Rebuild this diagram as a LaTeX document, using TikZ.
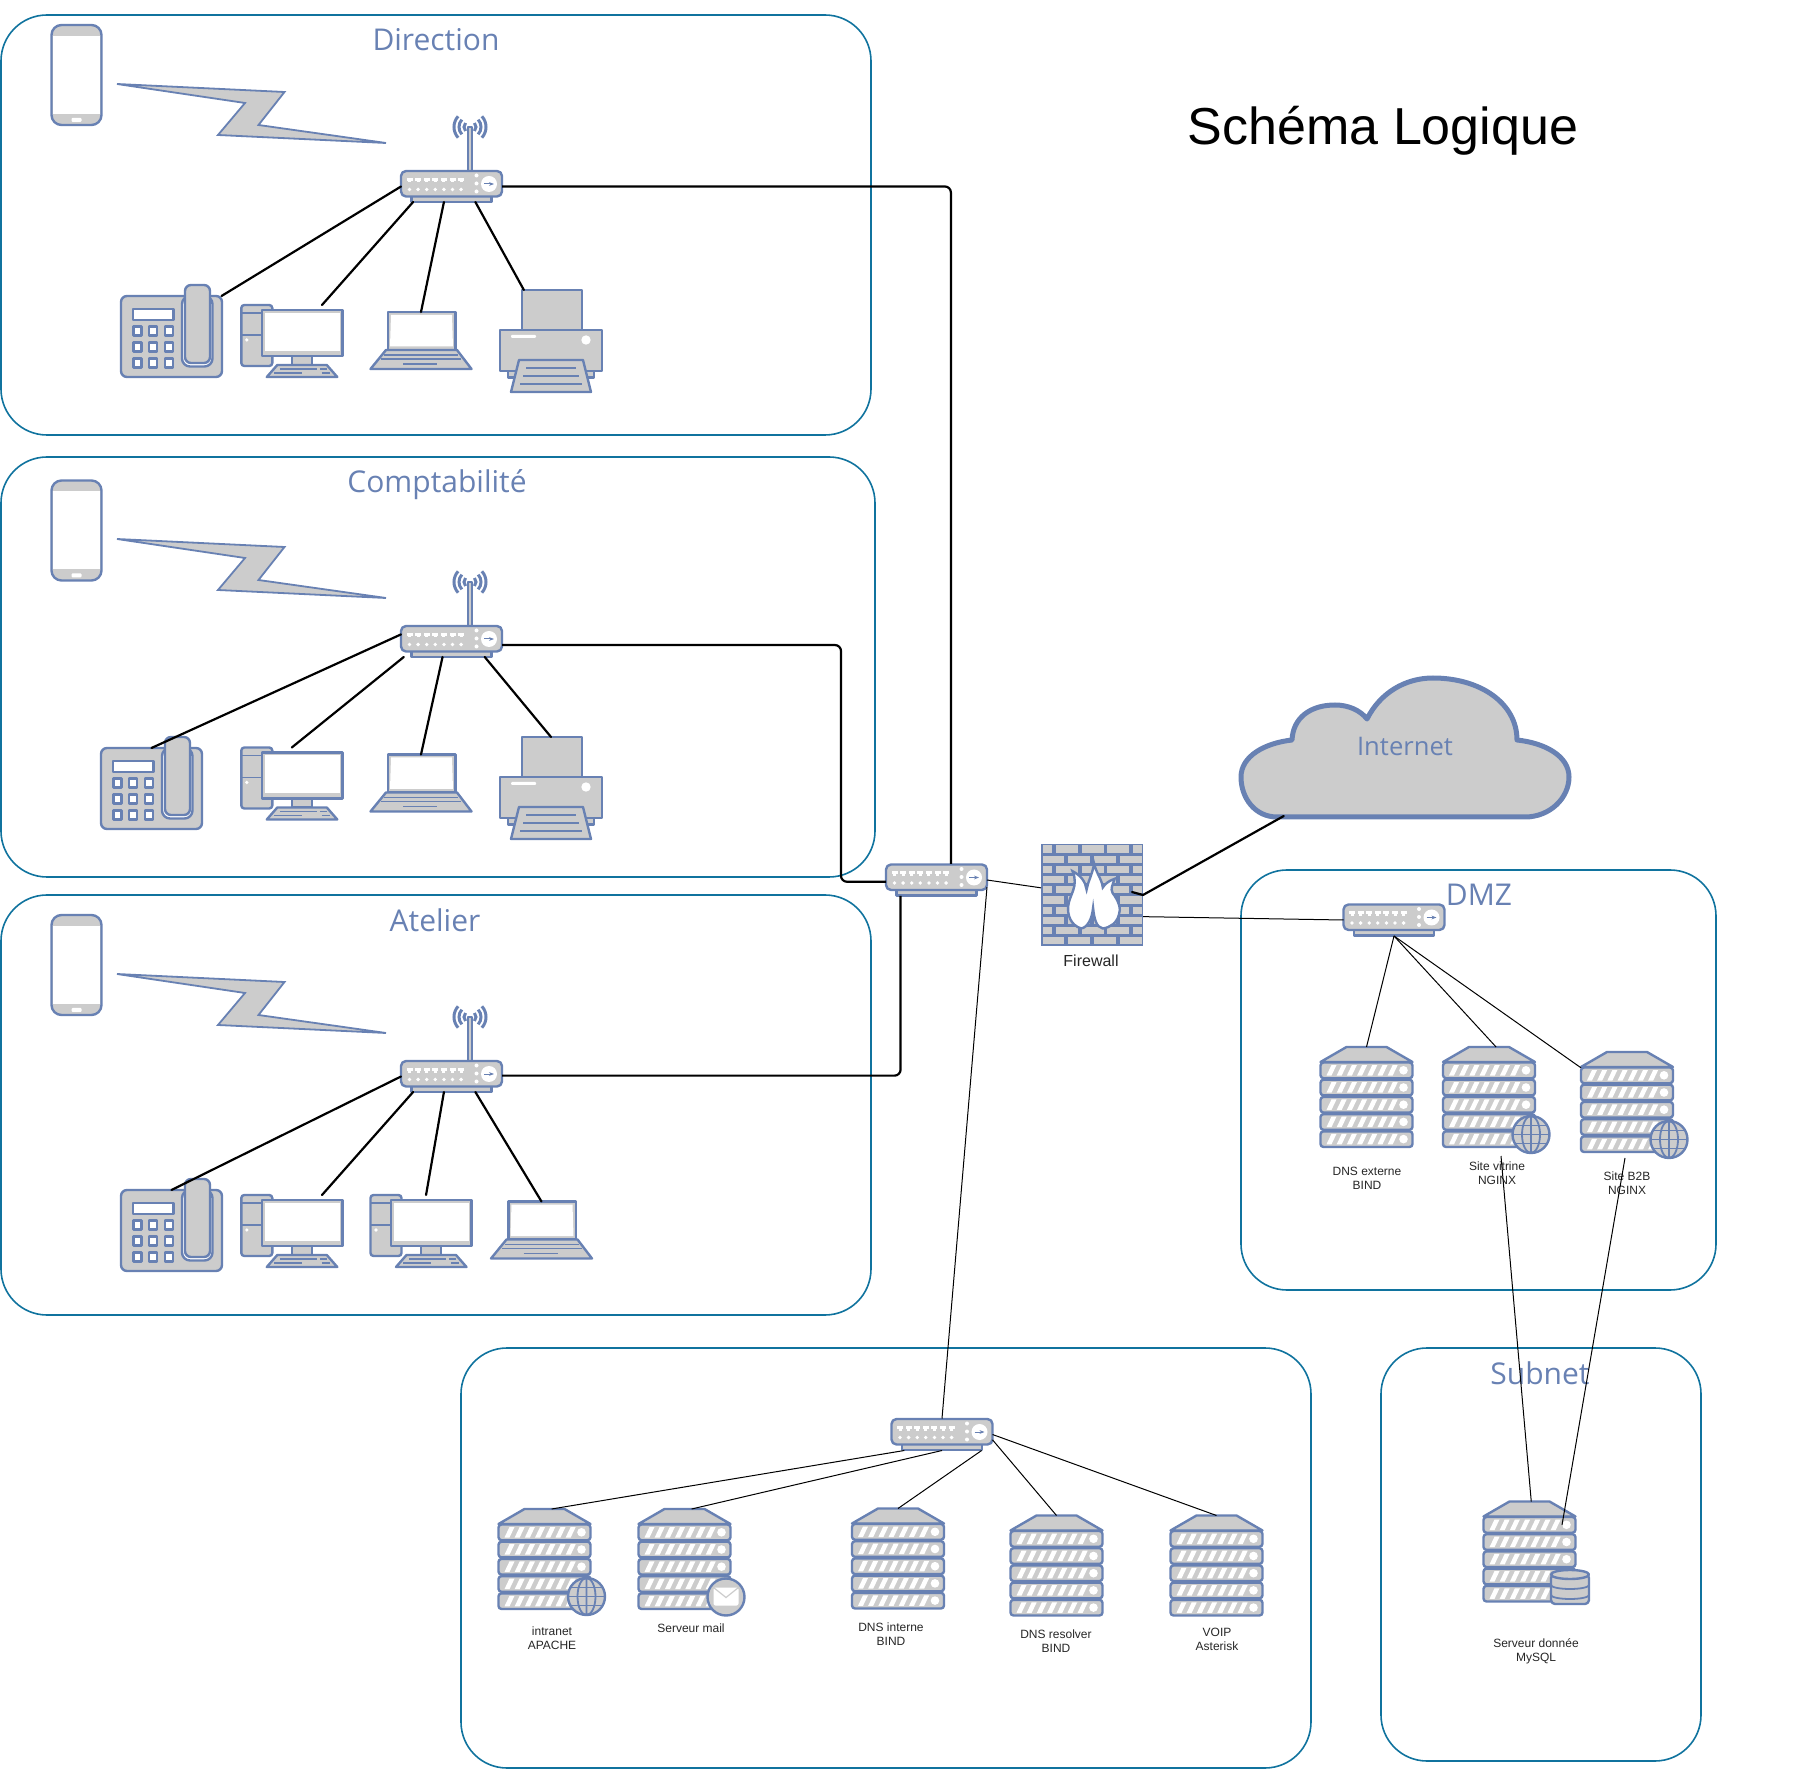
\documentclass[tikz,border=0pt]{standalone}
\usepackage{fontspec}
\setmainfont{Liberation Sans}
\newfontfamily\grpfont{Open Sans}
\usetikzlibrary{positioning, calc, arrows.meta}

\definecolor{iconline}{HTML}{6881B3}
\definecolor{iconfill}{HTML}{CCCCCC}
\definecolor{grpline}{HTML}{10739E}

\tikzset{
    dev/.style={draw=iconline, fill=iconfill, line width=1.2pt, line join=round},
    devline/.style={draw=iconline, line width=.9pt},
    devbox/.style={inner sep=0pt, outer sep=0pt},
    routerbox/.style={devbox, minimum width=50.5pt, minimum height=15.5pt},
    phonebox/.style={devbox, minimum width=25.5pt, minimum height=50pt},
    deskbox/.style={devbox, minimum width=50.5pt, minimum height=40.5pt},
    pcbox/.style={devbox, minimum width=50.5pt, minimum height=36pt},
    laptopbox/.style={devbox, minimum width=50.5pt, minimum height=28.5pt},
    printerbox/.style={devbox, minimum width=51pt, minimum height=51pt},
    serverbox/.style={devbox, minimum width=46pt, minimum height=50.5pt},
    grp/.style={draw=grpline, line width=.8pt, rounded corners=23pt},
    grptitle/.style={devbox, font=\grpfont\fontsize{15}{18}\selectfont, text=iconline},
    devlabel/.style={devbox, font=\fontsize{6}{7}\selectfont, align=center, text=black!85},
    wire/.style={line width=1.1pt, line cap=round},
    uplink/.style={line width=1.1pt, rounded corners=3pt},
    thinwire/.style={line width=.5pt},
    % icons, all drawn around their centre
    pics/router/.style={code={
        \draw[dev] (-40,9) rectangle (40,15.5);
        \draw[dev, rounded corners=2.5pt] (-50.5,-15.5) rectangle (50.5,10);
        \foreach \s in {-42,-33.4,...,18}{
            \fill[white] (\s-3,-8.5) rectangle (\s+3,-5.5);
            \fill[white] (\s-1.5,-5.5) rectangle (\s+1.5,-4);
            \fill[white] (\s,3) circle[radius=1.9];
        }
        \foreach \s in {-11,-3,5}
            \fill[white] (25,\s) circle[radius=2];
        \fill[white] (37.5,-2.5) circle[radius=8];
        \draw[iconline, line width=.5pt, -{Stealth[length=2.5pt]}] (32.5,-2.5) -- (42.5,-2.5);
    }},
    pics/wifirouter/.style={code={
        \draw[dev, line width=.7pt] (16.5,-15.5) rectangle (20.5,-59.5);
        \foreach \s in {6,11,16}{
            \draw[devline, line width=1.5pt] (18.5,-59.5) ++(-42:\s) arc[start angle=-42, end angle=42, radius=\s];
            \draw[devline, line width=1.5pt] (18.5,-59.5) ++(138:\s) arc[start angle=138, end angle=222, radius=\s];
        }
        \pic at (0,0) {router};
    }},
    pics/mobile/.style={code={
        \draw[dev, rounded corners=5pt] (-25,-50) rectangle (25,50);
        \fill[white] (-23.5,-39) rectangle (23.5,39);
        \fill[white, rounded corners=.5pt] (-5,43) rectangle (5,47);
    }},
    pics/deskphone/.style={code={
        \draw[dev, rounded corners=3pt] (-50.5,-40.5) rectangle (50.5,40.5);
        \draw[dev, fill=white, rounded corners=4pt] (10.5,-40.5) rectangle (41,30);
        \draw[dev, rounded corners=3pt] (13.5,-51.5) rectangle (38.5,26.5);
        \draw[dev, fill=white] (-38.5,-27.5) rectangle (2,-16.5);
        \foreach \s in {-34,-18.5,-2.5}
            \foreach \t in {-5.5,10.5,26.5}
                \draw[dev, fill=white] (\s-4,\t-4.5) rectangle (\s+4,\t+4.5);
    }},
    pics/computer/.style={code={
        \draw[dev, rounded corners=1.5pt] (-50.5,-36) rectangle (-19.5,25);
        \draw[devline] (-50.5,-28) -- (-19.5,-28) (-50.5,-6) -- (-19.5,-6);
        \fill[white] (-45,-1) circle[radius=1.8];
        \draw[dev] (0,15) rectangle (20,24);
        \draw[dev] (-14.5,24) -- (35,24) -- (45.5,36) -- (-25,36) -- cycle;
        \draw[devline] (-12,28) -- (25,28) (-18,32) -- (10,32) (28,28) -- (35,28) (30,32) -- (38,32);
        \draw[dev] (-30,-31) rectangle (50.5,15);
        \fill[white] (-27,-28) rectangle (48,10);
    }},
    pics/laptop/.style={code={
        \draw[dev] (-33,-28.5) rectangle (34.5,9.5);
        \fill[white] (-30,-25.5) -- (31,-25.5) -- (32,6) -- (-31,6) -- cycle;
        \draw[dev] (-35,9.5) -- (36,9.5) -- (50.5,28.5) -- (-50.5,28.5) -- cycle;
        \draw[devline] (-37,14.5) -- (37,14.5) (-40,18.5) -- (40,18.5) (-18,23.5) -- (16,23.5);
    }},
    pics/printer/.style={code={
        \draw[dev] (-29,-51) rectangle (31,-11);
        \draw[dev] (-43,25) rectangle (43,36.5);
        \draw[dev] (-51,-11) rectangle (51,30);
        \fill[white, rounded corners=.5pt] (-40,-6) rectangle (-15,-3);
        \fill[white] (35,-1) circle[radius=4.7];
        \draw[dev] (-32,19) -- (32,19) -- (40,51) -- (-40,51) -- cycle;
        \draw[devline] (-25,27) -- (25,27) (-28,35) -- (28,35) (-31,43) -- (31,43);
    }},
    pics/server/.style={code={
        \draw[dev] (-46,-35.5) -- (-20,-50.5) -- (20,-50.5) -- (46,-35.5) -- cycle;
        \foreach \r in {-35,-17.8,-.6,16.6,33.8}{
            \draw[dev, rounded corners=1.5pt] (-46,\r) rectangle (46,\r+15.7);
            \foreach \s in {-40,-29.8,-19.6,-9.4,.8,11,21.2}
                \fill[white, shift={(\s,\r)}] (0,13) -- (5,13) -- (10,2.5) -- (5,2.5) -- cycle;
            \fill[white] (37,\r+7.8) circle[radius=4.3];
        }
    }},
    pics/webserver/.style={code={
        \pic at (0,0) {server};
        \draw[dev] (42,37) circle[radius=18.5];
        \draw[devline] (42,37) ellipse[x radius=9, y radius=18.5] (42,18.5) -- (42,55.5);
        \draw[devline] (23.5,37) -- (60.5,37) (26,28) -- (58,28) (26,46) -- (58,46);
    }},
    pics/mailserver/.style={code={
        \pic at (0,0) {server};
        \draw[dev] (41.5,37.5) circle[radius=18.5];
        \fill[white, rounded corners=1pt] (29,28) rectangle (54,46);
        \draw[iconfill, line width=.6pt] (29,28) -- (41.5,38) -- (54,28);
    }},
    pics/dbserver/.style={code={
        \pic at (0,0) {server};
        \draw[dev, rounded corners=2pt] (21.5,22) rectangle (59.5,52);
        \foreach \s in {33,43}
            \draw[devline] (21.5,\s) arc[start angle=180, end angle=360, x radius=19, y radius=-4];
        \draw[dev] (40.5,22.5) ellipse[x radius=19, y radius=4.5];
    }},
    pics/firewall/.style={code={
        \fill[iconline] (-51,-51) rectangle (51,51);
        \foreach \r in {-51,-30.6,-10.2,10.2,30.6}{
            \foreach \a/\b in {1/11,14/37,40/63,65/88,91/101}
                \fill[iconfill, shift={(-51,\r)}] (\a+.5,1.5) rectangle (\b-.5,8.7);
            \foreach \a/\b in {1/23,26/49,52/75,78/101}
                \fill[iconfill, shift={(-51,\r+10.2)}] (\a+.5,1.5) rectangle (\b-.5,8.7);
        }
        \draw[devline, fill=white, line width=1.2pt, scale=1.08] (-10,31) .. controls (-20,28) and (-23,18) .. (-22,10)
            .. controls (-21,0) and (-12,-8) .. (-18,-22) .. controls (-10,-18) and (-6,-12) .. (-5,-5)
            .. controls (-4,-12) and (0,-18) .. (2,-29) .. controls (4,-20) and (9,-15) .. (10,-7)
            .. controls (12,-10) and (15,-13) .. (21,-15) .. controls (19,-9) and (17,-6) .. (19,-2)
            .. controls (25,6) and (27,13) .. (25,18) .. controls (23,26) and (17,30) .. (10,31)
            .. controls (4,30) and (2,22) .. (1,12) .. controls (0,22) and (-4,30) .. (-10,31) -- cycle;
    }},
    pics/cloud/.style={code={
        \draw[dev, line width=2.5pt] (-128,69) .. controls (-150,69) and (-164,50) .. (-164,29)
            .. controls (-164,8) and (-140,-5) .. (-113,-8) .. controls (-112,-30) and (-95,-43) .. (-70,-43)
            .. controls (-57,-43) and (-45,-38) .. (-38,-29) .. controls (-25,-55) and (0,-70) .. (28,-70)
            .. controls (75,-70) and (112,-45) .. (112,-8) .. controls (140,-5) and (164,8) .. (164,29)
            .. controls (164,50) and (145,69) .. (120,69) -- cycle;
    }},
    pics/bolt/.style={code={
        \draw[dev, line width=.9pt, line join=miter] (0,0) -- (167.5,8) -- (141.5,41) -- (269,59) -- (101,51) -- (128,19) -- cycle;
    }},
}

\begin{document}
\begin{tikzpicture}[x=.5pt, y=-.5pt]
\useasboundingbox (0,0) rectangle (1812,1770);

% the rooms
\foreach \xa/\ya/\xb/\yb in {1/15/871/435, 1/457/875/877, 1/895/871/1315, 461/1348/1311/1768, 1381/1348/1701/1761, 1241/870/1716/1290}{
    \draw[grp] (\xa,\ya) rectangle (\xb,\yb);
}
\node[grptitle] (dirtitle) at (436,40) {Direction};
\node[grptitle] (comptatitle) at (437,485) {Comptabilité};
\node[grptitle] (ateliertitle) at (435,920) {Atelier};
\node[grptitle] (dmztitle) at (1479,895) {DMZ};
\node[grptitle] (subnettitle) at (1540,1373) {Subnet};
\node[devbox, font=\fontsize{26}{30}\selectfont] (title) at (1383,130.5) {Schéma Logique};

% devices
\foreach \n/\x/\y in {dirmobile/76.5/75, comptamobile/76.5/530.5, ateliermobile/76.5/965}{
    \node[phonebox] (\n) at (\x,\y) {};
    \pic at (\x,\y) {mobile};
}
\foreach \x/\y in {117/84, 117/539, 117/974}{
    \pic at (\x,\y) {bolt};
}
\foreach \n/\x/\y in {dirsw/451.5/186.5, comptasw/451.5/641.5, ateliersw/451.5/1076.5}{
    \node[routerbox] (\n) at (\x,\y) {};
    \pic at (\x,\y) {wifirouter};
}
\foreach \n/\x/\y in {coresw/936.5/880, dmzsw/1394/920, lansw/942/1434.5}{
    \node[routerbox, minimum height=16pt] (\n) at (\x,\y) {};
    \pic at (\x,\y) {router};
}
\foreach \n/\x/\y in {dirdesk/171.5/336.5, comptadesk/151.5/788.5, atelierdesk/171.5/1230.5}{
    \node[deskbox] (\n) at (\x,\y) {};
    \pic at (\x,\y) {deskphone};
}
\foreach \n/\x/\y in {dirpc/291.8/341, comptapc/291.8/783.5, atelierpca/291.8/1231, atelierpcb/421/1231}{
    \node[pcbox] (\n) at (\x,\y) {};
    \pic at (\x,\y) {computer};
}
\foreach \n/\x/\y in {dirlaptop/421/340.5, comptalaptop/421/783, atelierlaptop/541.5/1230}{
    \node[laptopbox] (\n) at (\x,\y) {};
    \pic at (\x,\y) {laptop};
}
\foreach \n/\x/\y in {dirprinter/551/341, comptaprinter/551/788}{
    \node[printerbox] (\n) at (\x,\y) {};
    \pic at (\x,\y) {printer};
}
\foreach \n/\x/\y in {dnsext/1366.5/1097.5, dnsint/898/1559, dnsres/1056.5/1566, voip/1216.5/1566}{
    \node[serverbox] (\n) at (\x,\y) {};
    \pic at (\x,\y) {server};
}
\foreach \n/\x/\y in {vitrine/1489/1097.5, btob/1627/1102.5, intranet/544.5/1559.5}{
    \node[serverbox] (\n) at (\x,\y) {};
    \pic at (\x,\y) {webserver};
}
\node[serverbox] (mail) at (684.5,1559.5) {};
\pic at (684.5,1559.5) {mailserver};
\node[serverbox] (mysql) at (1529.5,1552) {};
\pic at (1529.5,1552) {dbserver};

\node[printerbox] (firewall) at (1092,895) {};
\pic at (1092,895) {firewall};
\pic at (1405,748) {cloud};
\node[devbox, minimum width=165pt, minimum height=70pt, font=\grpfont\fontsize{12.8}{15}\selectfont, text=iconline] (internet) at (1405,746) {Internet};

% labels
\node[devlabel, font=\fontsize{8}{9}\selectfont] (firewalllbl) at (1091,961) {Firewall};
\node[devlabel] (dnsextlbl) at (1367,1178) {DNS externe\\BIND};
\node[devlabel] (vitrinelbl) at (1497,1173) {Site vitrine\\NGINX};
\node[devlabel] (btoblbl) at (1627,1183) {Site B2B\\NGINX};
\node[devlabel] (intranetlbl) at (552,1638) {intranet\\APACHE};
\node[devlabel] (maillbl) at (691,1628) {Serveur mail};
\node[devlabel] (dnsintlbl) at (891,1634) {DNS interne\\BIND};
\node[devlabel] (dnsreslbl) at (1056,1641) {DNS resolver\\BIND};
\node[devlabel] (voiplbl) at (1217,1639) {VOIP\\Asterisk};
\node[devlabel] (mysqllbl) at (1536,1651) {Serveur donnée\\MySQL};

% links
\foreach \a/\b in {dirsw.west/dirdesk.39, dirsw.202/dirpc.50, dirsw.244/dirlaptop.north, dirsw.-33/dirprinter.118,
    comptasw.172/comptadesk.north, comptasw.198/comptapc.north, comptasw.240/comptalaptop.north, comptasw.-25/comptaprinter.north,
    ateliersw.west/atelierdesk.north, ateliersw.202/atelierpca.50, ateliersw.244/atelierpcb.82, ateliersw.-33/atelierlaptop.north}{
    \draw[wire] (\a) -- (\b);
}
\draw[uplink] (dirsw.east) -| (coresw.48);
\draw[uplink] (comptasw.-4) -| (841,800) |- (coresw.182);
\draw[uplink] (ateliersw.1) -| (coresw.204);

\coordinate (fwport) at (1132,892);
\draw[wire, line join=bevel] (fwport) -- (firewall.east) -- (internet.210);

\coordinate (vitrineout) at (1501,1156);
\coordinate (btobout) at (1625,1158);
\coordinate (mysqlin) at (1562,1525);

\foreach \a/\b in {coresw.east/firewall.172, coresw.-8/lansw.north, firewall.-23/dmzsw.west,
    dmzsw.south/dnsext.north, dmzsw.south/vitrine.82, dmzsw.south/btob.143,
    lansw.203/intranet.82, lansw.south/mail.82, lansw.-22/dnsint.north, lansw.-6/dnsres.north, lansw.east/voip.north,
    vitrineout/mysql.88, btobout/mysqlin}{
    \draw[thinwire] (\a) -- (\b);
}

\end{tikzpicture}
\end{document}
